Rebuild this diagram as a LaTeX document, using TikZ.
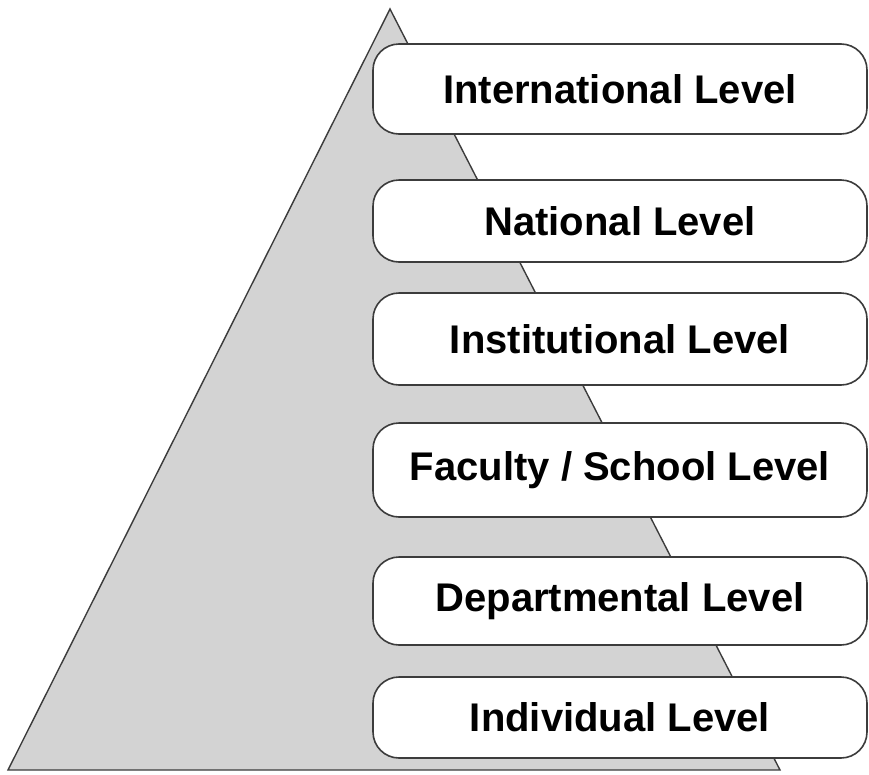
\documentclass[tikz,border=0pt]{standalone}
\usepackage{fontspec}
\setmainfont{Liberation Sans}
\definecolor{trifill}{HTML}{D3D3D3}
\definecolor{edge}{HTML}{3C3C3C}
\begin{document}
\begin{tikzpicture}[x=1pt,y=-1pt,
  level/.style={draw=edge, line width=1.6pt, fill=white, rounded corners=26pt,
    minimum width=494pt, inner sep=0pt,
    font=\fontsize{40}{48}\selectfont\bfseries, text=black}]
\useasboundingbox (0,0) rectangle (869,774);
\coordinate (apex) at (390,9);
\coordinate (bl) at (8,770);
\coordinate (br) at (780,770);
\draw[draw=edge, line width=1.4pt, fill=trifill, line join=miter] (apex) -- (bl) -- (br) -- cycle;
\node[level, minimum height=90pt] (intl) at (620,89) {International Level};
\node[level, minimum height=82pt] (natl) at (620,221) {National Level};
\node[level, minimum height=92pt] (inst) at (620,339) {Institutional Level};
\node[level, minimum height=94pt] (fac) at (620,470) {Faculty / School Level};
\node[level, minimum height=88pt] (dept) at (620,601) {Departmental Level};
\node[level, minimum height=81pt] (indiv) at (620,717.5) {Individual Level};
\end{tikzpicture}
\end{document}
